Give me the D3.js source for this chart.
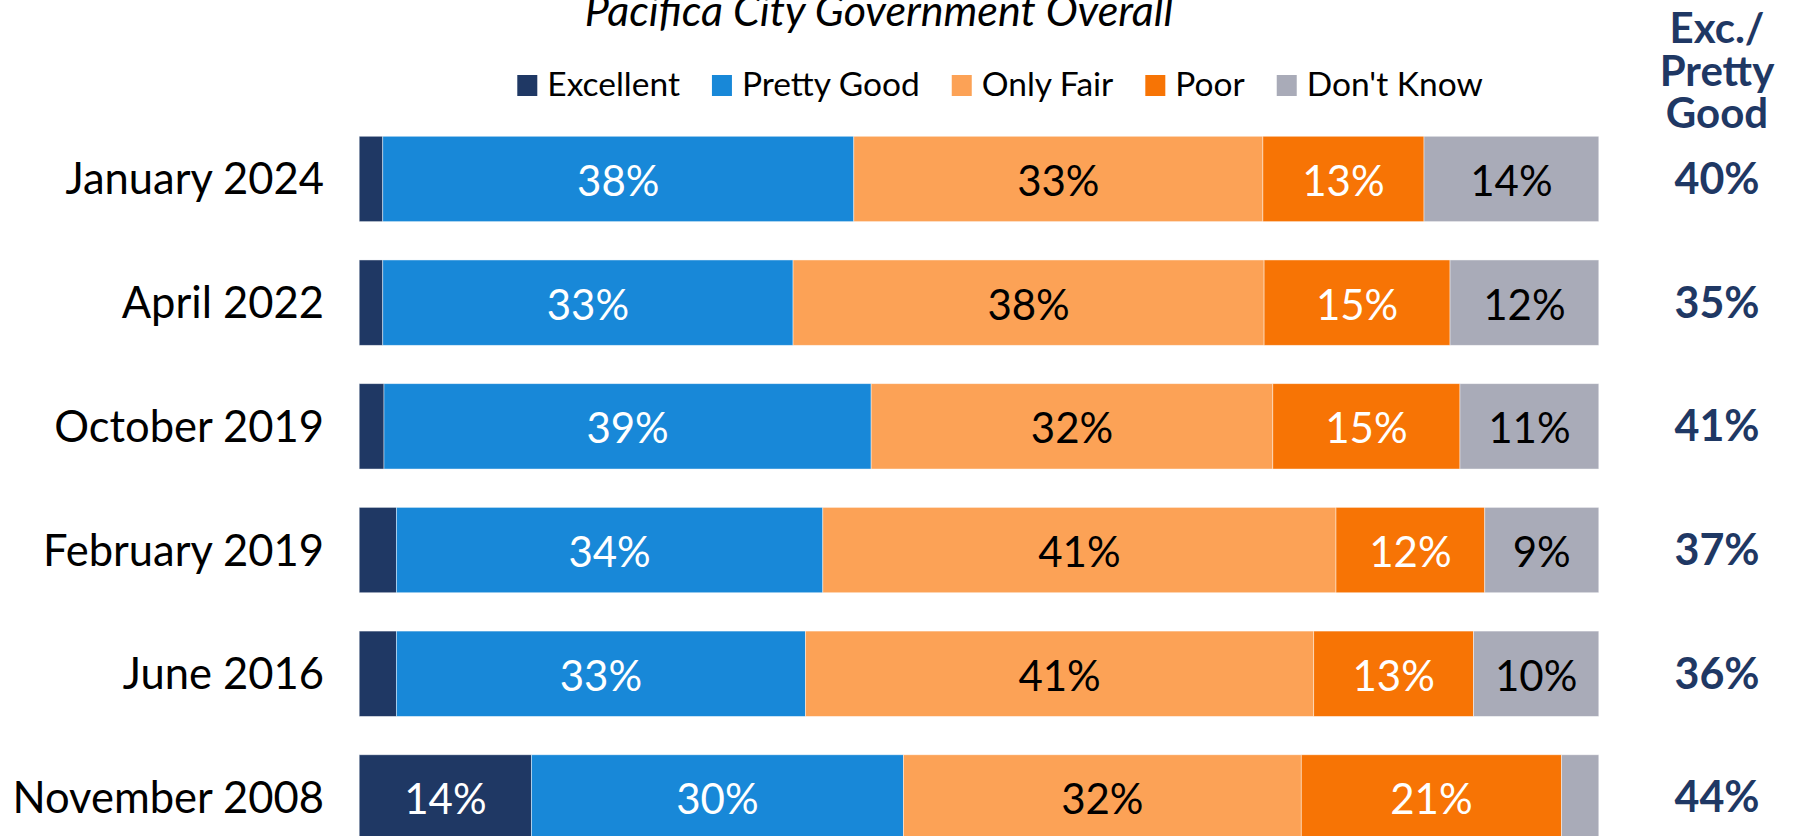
<!DOCTYPE html>
<html>
<head>
<meta charset="utf-8">
<script src="https://cdn.jsdelivr.net/npm/d3@7"></script>
<style>
  html, body { margin: 0; padding: 0; background: #fff; overflow: hidden; }
  svg { display: block; }
  text { font-family: Lato, "Open Sans", sans-serif; }
</style>
</head>
<body>
<svg id="chart" width="1796" height="836"></svg>
<script>
// ---- data ----
const title = "Pacifica City Government Overall";
const categories = ["January 2024", "April 2022", "October 2019", "February 2019", "June 2016", "November 2008"];
const seriesNames = ["Excellent", "Pretty Good", "Only Fair", "Poor", "Don't Know"];
const excellent  = [1.9, 1.9, 2.0, 3.0, 3.0, 13.9];
const prettyGood = [38.0, 33.1, 39.3, 34.4, 33.0, 30.0];
const onlyFair   = [33.0, 38.0, 32.4, 41.4, 41.0, 32.1];
const poor       = [13.0, 15.0, 15.1, 12.0, 12.9, 21.0];
const dontKnow   = [14.1, 12.0, 11.2, 9.2, 10.1, 3.0];
const netHeader = ["Exc./", "Pretty", "Good"];
const xDomain = [0, 100];

// ---- styles ----
const colors = ["#1F3864", "#1888D8", "#FCA256", "#F77405", "#A9ABB8"];
const labelColors = ["#fff", "#fff", "#000", "#fff", "#000"];
const navy = "#1F3864";

const svg = d3.select("#chart");

const table = categories.map((c, i) => ({
  category: c,
  "Excellent": excellent[i],
  "Pretty Good": prettyGood[i],
  "Only Fair": onlyFair[i],
  "Poor": poor[i],
  "Don't Know": dontKnow[i]
}));

const stacked = d3.stack().keys(seriesNames)(table);

const x = d3.scaleLinear().domain(xDomain).range([359.2, 1598.8]);
const y = d3.scaleBand().domain(categories)
  .range([117.1, 859.3]).paddingInner(0.31).paddingOuter(0.155);

// bars
const layers = svg.append("g").selectAll("g").data(stacked).join("g")
  .attr("fill", (d, i) => colors[i]);

layers.selectAll("rect").data(d => d).join("rect")
  .attr("x", d => x(d[0]))
  .attr("y", d => y(d.data.category))
  .attr("width", d => x(d[1]) - x(d[0]))
  .attr("height", y.bandwidth())
  .attr("stroke", "#ffffff")
  .attr("stroke-opacity", 0.55)
  .attr("stroke-width", 0.8);

// segment labels
stacked.forEach((layer, si) => {
  svg.append("g").selectAll("text").data(layer.filter(d => (d[1] - d[0]) >= 5)).join("text")
    .attr("x", d => (x(d[0]) + x(d[1])) / 2)
    .attr("y", d => y(d.data.category) + y.bandwidth() / 2 + 17)
    .attr("text-anchor", "middle")
    .attr("font-size", 42)
    .attr("fill", labelColors[si])
    .text(d => Math.round(d[1] - d[0]) + "%");
});

// category labels
svg.append("g").selectAll("text").data(categories).join("text")
  .attr("x", 324)
  .attr("y", d => y(d) + y.bandwidth() / 2 + 15.5)
  .attr("text-anchor", "end")
  .attr("font-size", 43.5)
  .attr("fill", "#000")
  .text(d => d);

// net column
const netX = 1717;
svg.append("g").selectAll("text").data(netHeader).join("text")
  .attr("x", netX)
  .attr("y", (d, i) => 43 + i * 42.5)
  .attr("text-anchor", "middle")
  .attr("font-size", 42)
  .attr("font-weight", 700)
  .attr("fill", navy)
  .text(d => d);

svg.append("g").selectAll("text").data(table).join("text")
  .attr("x", netX)
  .attr("y", d => y(d.category) + y.bandwidth() / 2 + 15)
  .attr("text-anchor", "middle")
  .attr("font-size", 43)
  .attr("font-weight", 700)
  .attr("fill", navy)
  .text(d => Math.round(d["Excellent"] + d["Pretty Good"]) + "%");

// title
svg.append("text")
  .attr("x", 879).attr("y", 26)
  .attr("text-anchor", "middle")
  .attr("font-size", 43)
  .attr("font-style", "italic")
  .attr("fill", "#000")
  .text(title);

// legend
const legend = svg.append("g");
const items = legend.selectAll("g").data(seriesNames).join("g");
items.append("rect")
  .attr("width", 20).attr("height", 21)
  .attr("y", 75)
  .attr("fill", (d, i) => colors[i]);
items.append("text")
  .attr("x", 30).attr("y", 96)
  .attr("font-size", 33.5)
  .attr("fill", "#000")
  .text(d => d);
let cursor = 0;
const offsets = [];
items.each(function () {
  const tw = d3.select(this).select("text").node().getComputedTextLength();
  offsets.push(cursor);
  cursor += 30 + tw + 32;
});
const total = cursor - 32;
const startX = 1000 - total / 2;
items.attr("transform", (d, i) => `translate(${startX + offsets[i]},0)`);
</script>
</body>
</html>
